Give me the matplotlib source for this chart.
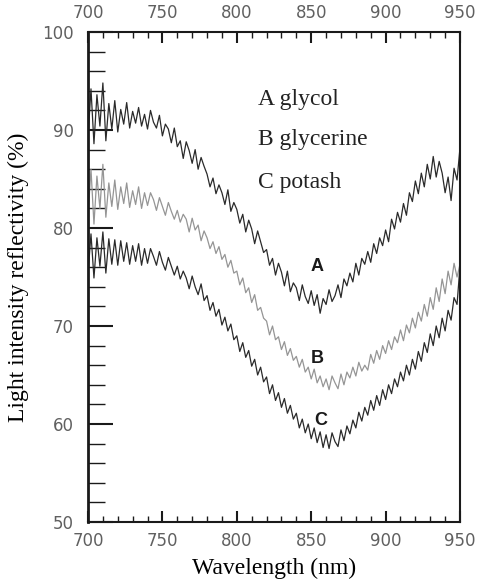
import matplotlib.pyplot as plt
import numpy as np
from matplotlib.ticker import MultipleLocator

# wavelength grid (nm), 2 nm step, 700..950
wl = np.arange(700, 951, 2)

glycol = [89.2, 94.2, 88.6, 93.6, 90.4, 94.8, 88.9, 92.7, 90.1, 93.0,
          89.8, 92.1, 90.6, 92.8, 90.2, 91.9, 90.7, 92.3, 90.4, 91.6,
          90.1, 92.0, 90.8, 90.2, 91.5, 89.4, 90.6, 90.1, 88.7, 90.2,
          88.3, 88.9, 87.1, 88.8, 87.9, 86.6, 88.0, 86.0, 87.2, 86.3,
          85.5, 84.2, 85.1, 83.5, 84.4, 83.6, 82.4, 83.9, 81.7, 82.6,
          81.9, 80.5, 81.4, 79.6, 80.8, 79.9, 78.4, 79.7, 78.6, 77.5,
          77.8, 76.2, 76.9, 75.2, 76.4, 75.5, 74.1, 75.6, 73.5, 74.4,
          73.9, 72.6, 74.2, 73.0, 72.3, 73.6, 72.1, 73.2, 71.3, 72.8,
          72.2, 73.7, 72.5, 73.1, 74.2, 72.9, 74.8, 74.1, 75.4, 74.5,
          76.4, 75.2, 76.9, 76.3, 77.6, 76.5, 78.4, 77.4, 79.0, 78.2,
          79.8, 78.6, 80.9, 79.9, 81.6, 80.6, 82.5, 81.3, 83.6, 82.7,
          84.8, 83.5, 85.6, 84.2, 86.5, 85.0, 87.3, 85.2, 86.8, 85.6,
          83.6, 85.2, 82.8, 86.1, 84.9, 88.2]

glycerine = [81.2, 86.0, 80.4, 85.3, 82.0, 86.5, 81.1, 84.6, 82.2, 84.9,
             81.9, 84.2, 82.5, 84.6, 82.1, 83.8, 82.4, 84.2, 82.0, 83.6,
             82.3, 83.6, 82.9, 81.8, 83.1, 82.2, 81.3, 82.6, 81.7, 80.9,
             81.8, 80.6, 81.4, 80.9, 79.6, 81.0, 79.8, 80.3, 78.7, 79.7,
             79.0, 77.9, 78.6, 77.4, 78.1, 76.8, 77.3, 76.0, 76.7, 75.4,
             75.6, 74.2, 74.9, 73.4, 73.9, 72.4, 73.2, 71.6, 71.9, 70.8,
             70.5, 69.1, 70.0, 68.6, 68.9, 67.6, 68.4, 67.0, 67.7, 66.5,
             66.9, 65.8, 66.6, 65.3, 65.8, 64.6, 65.6, 64.2, 64.9, 63.8,
             64.6, 63.5, 64.9, 64.2, 63.6, 65.1, 64.0, 65.3, 64.7, 65.8,
             64.9, 66.3, 65.4, 66.0, 65.5, 67.1, 66.2, 67.5, 66.6, 68.0,
             67.2, 68.5, 67.6, 68.9, 68.3, 69.6, 68.5, 70.1, 69.3, 70.8,
             69.8, 71.4, 70.5, 72.2, 71.0, 72.9, 71.7, 73.9, 72.5, 74.8,
             73.3, 75.6, 74.2, 76.4, 75.0, 76.3]

potash = [75.3, 79.4, 74.9, 79.0, 76.1, 79.6, 75.4, 78.9, 76.3, 78.8,
          76.2, 78.7, 76.6, 78.5, 76.3, 78.2, 76.6, 78.4, 76.2, 77.9,
          76.4, 77.9, 77.1, 76.2, 77.6, 76.5, 75.7, 77.0, 76.1, 75.2,
          76.1, 74.8, 75.6, 74.9, 73.8, 75.1, 74.0, 73.2, 74.3, 72.6,
          73.1, 71.6, 72.4, 71.0, 71.7, 70.1, 70.9, 69.5, 70.2, 68.6,
          69.0, 67.4, 68.3, 66.8, 67.5, 65.9, 66.6, 65.0, 65.8, 64.3,
          64.8, 63.1, 64.0, 62.4, 63.2, 61.7, 62.6, 61.1, 61.9, 60.5,
          61.1, 59.6, 60.5, 59.1, 60.0, 58.5, 59.6, 58.1, 59.2, 57.6,
          58.9, 57.5, 59.1, 58.2, 57.7, 59.4, 58.3, 59.8, 59.0, 60.4,
          59.6, 61.2, 60.3, 61.7, 60.9, 62.4, 61.4, 62.9, 61.9, 63.5,
          62.5, 64.0, 63.1, 64.6, 63.8, 65.3, 64.4, 66.0, 65.0, 66.6,
          65.6, 67.4, 66.4, 68.3, 67.3, 69.2, 68.0, 70.0, 68.8, 70.8,
          69.5, 71.6, 70.6, 72.9, 72.2, 76.1]

legend_lines = ["A glycol", "B glycerine", "C potash"]
curve_tags = ["A", "B", "C"]

fig = plt.figure(figsize=(4.83, 5.8), dpi=100)
ax = fig.add_axes([0.1822, 0.1, 0.7702, 0.8448])

ax.plot(wl, glycol, '-', color="#2a2a2a", lw=0.9)
ax.plot(wl, glycerine, '-', color="#959595", lw=0.9)
ax.plot(wl, potash, '-', color="#2a2a2a", lw=0.9)

ax.set_xlim(700, 950)
ax.set_ylim(50, 100)

ax.xaxis.set_major_locator(MultipleLocator(50))
ax.xaxis.set_minor_locator(MultipleLocator(10))
ax.yaxis.set_major_locator(MultipleLocator(10))
ax.yaxis.set_minor_locator(MultipleLocator(2))

ax.tick_params(axis='x', which='both', direction='in', top=True, bottom=True,
               labeltop=True, labelbottom=True, colors="#1a1a1a",
               labelcolor="#606060", labelsize=12, pad=7)
ax.tick_params(axis='x', which='major', length=8, width=1.5)
ax.tick_params(axis='x', which='minor', length=4, width=1.0)
ax.tick_params(axis='y', which='both', direction='in', left=True, right=False,
               colors="#1a1a1a", labelcolor="#606060", labelsize=12, pad=10)
ax.tick_params(axis='y', which='major', length=18, width=1.5)
ax.tick_params(axis='y', which='minor', length=12, width=1.0)

for s in ax.spines.values():
    s.set_linewidth(1.5)
    s.set_color("#1a1a1a")
ax.spines['left'].set_linewidth(2)

ax.set_xlabel("Wavelength (nm)", family="Liberation Serif", fontsize=17, labelpad=6)
ax.set_ylabel("Light intensity reflectivity (%)", family="Liberation Serif",
              fontsize=17, labelpad=10)

for i, t in enumerate(legend_lines):
    ax.text(814, [92.6, 88.5, 84.1][i], t, family="Liberation Serif", fontsize=17,
            va="baseline", color="#222222")

for t, x, y in zip(curve_tags, [854, 854.2, 856.6], [76.1, 66.65, 60.4]):
    ax.text(x, y, t, family="Liberation Sans", fontsize=13, fontweight="bold",
            ha="center", va="center", color="#1a1a1a")

plt.savefig("out.png", dpi=100)
